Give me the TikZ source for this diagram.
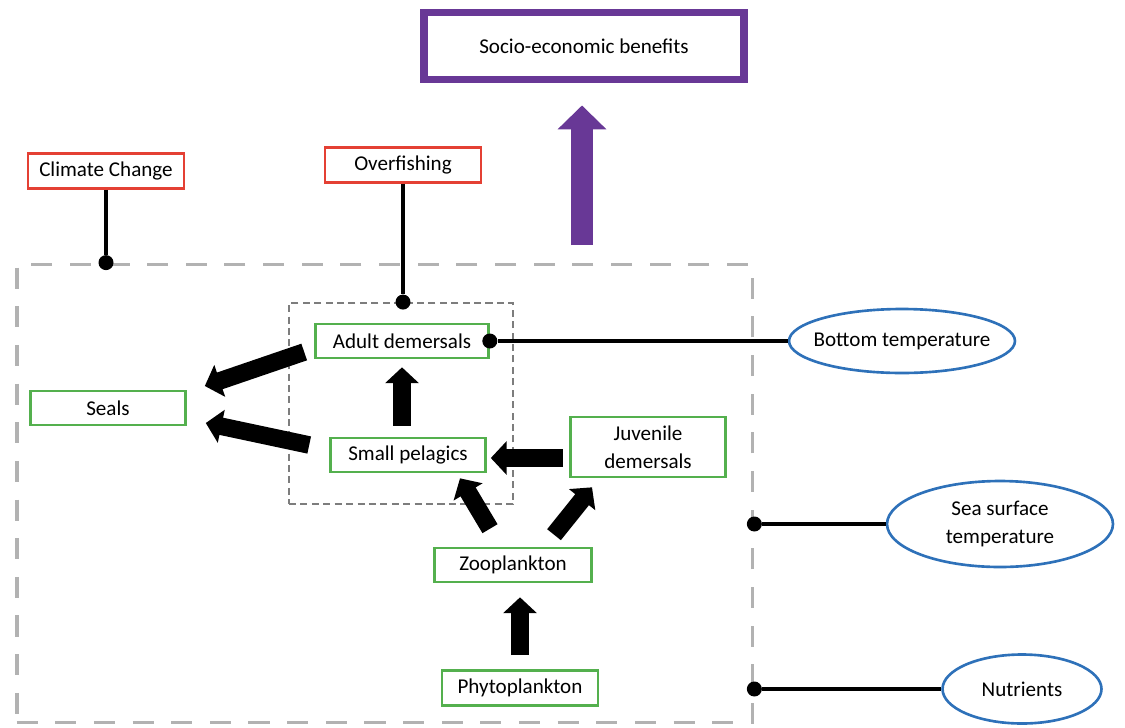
\documentclass[tikz,border=0pt]{standalone}
\usepackage{fontspec}
\setmainfont{Carlito}
\usetikzlibrary{positioning,arrows.meta,shapes.geometric,calc}
\definecolor{Leaf}{RGB}{84,176,78}
\definecolor{Brick}{RGB}{228,64,52}
\definecolor{Sky}{RGB}{46,113,185}
\definecolor{Plum}{RGB}{104,56,150}
\definecolor{Ash}{RGB}{178,178,178}
\definecolor{Slate}{RGB}{125,125,125}

\begin{document}
\begin{tikzpicture}[x=0.02cm,y=-0.02cm,
 every node/.style={font=\fontsize{12}{16}\selectfont,inner sep=0pt},
 sp/.style={draw=Leaf,line width=1.5pt,minimum width=3.1cm,minimum height=0.68cm,align=center},
 drv/.style={draw=Brick,line width=1.5pt,minimum width=3.12cm,minimum height=0.7cm},
 env/.style={ellipse,draw=Sky,line width=1.5pt,align=center},
 dot/.style={circle,fill=black,minimum size=0.3cm},
 lnk/.style={line width=2.2pt},
 blk/.style={-{Triangle[length=9pt,width=18.7pt]},line width=10pt},
 pa/.style={-{Triangle[length=13.6pt,width=27pt]},line width=12.5pt,Plum}]
\useasboundingbox (0,0) rectangle (1125,727);
\node[draw=Plum,line width=4.5pt,minimum width=6.4cm,minimum height=1.34cm] (socio) at (584,46) {Socio-economic benefits};
\node[drv] (climate) at (106,171) {Climate Change};
\node[drv] (fishing) at (403,165) {Overfishing};
\node[draw=Ash,line width=2.2pt,dash pattern=on 12pt off 10pt,minimum width=14.72cm,minimum height=9.16cm] (system) at (384.5,493.5) {};
\node[draw=Slate,line width=1.1pt,dash pattern=on 4pt off 2.5pt,minimum width=4.48cm,minimum height=4.02cm] (fishery) at (401,403.5) {};
\node[sp,minimum width=3.46cm] (adult) at (402,341) {Adult demersals};
\node[sp] (seals) at (108,408) {Seals};
\node[sp] (pelagics) at (408,455) {Small pelagics};
\node[sp,minimum height=1.2cm] (juvenile) at (648,447) {Juvenile\\demersals};
\node[sp,minimum width=3.14cm] (zoo) at (513,565) {Zooplankton};
\node[sp,minimum width=3.12cm,minimum height=0.7cm] (phyto) at (520,688) {Phytoplankton};
\node[env,inner xsep=-0.2cm,minimum width=4.52cm,minimum height=1.28cm] (bottom) at (902,341) {Bottom temperature};
\node[env,minimum width=4.52cm,minimum height=1.72cm] (sst) at (1000,524) {Sea surface\\temperature};
\node[env,minimum width=3.18cm,minimum height=1.38cm] (nutrients) at (1022,689) {Nutrients};

\node[dot] (dcc) at (climate.south |- system.north) {};
\node[dot] (dfish) at (fishing.south |- fishery.north) {};
\node[dot] (dadult) at (adult.east) {};
\node[dot] (dsst) at (system.east |- sst.west) {};
\node[dot] (dnut) at (system.east |- nutrients.west) {};
\draw[lnk] (climate) -- (dcc);
\draw[lnk] (fishing) -- (dfish);
\draw[lnk] (dadult) -- (bottom);
\draw[lnk] (dsst) -- (sst);
\draw[lnk] (dnut) -- (nutrients);

\draw[blk] ($(adult.west)+(-10,11)$) -- ($(seals.east)+(18,-22)$);
\draw[blk] ($(pelagics.west)+(-20,-10)$) -- ($(seals.east)+(19,15)$);
\draw[blk] ($(pelagics.north)+(-6,-11)$) -- ($(adult.south)+(0,8)$);
\draw[blk] ($(juvenile.west)+(-6,11)$) -- ($(pelagics.east)+(4,3)$);
\draw[blk] ($(zoo.north)+(-23,-18)$) -- ($(pelagics.south)+(52,5)$);
\draw[blk] ($(zoo.north)+(41,-12)$) -- ($(juvenile.south)+(-56,9)$);
\draw[blk] ($(phyto.north)+(0,-14)$) -- ($(zoo.south)+(7,14)$);

\coordinate (rise) at (582,245);
\draw[pa] (rise) -- ($(socio.south)+(-2,22)$);
\end{tikzpicture}
\end{document}
